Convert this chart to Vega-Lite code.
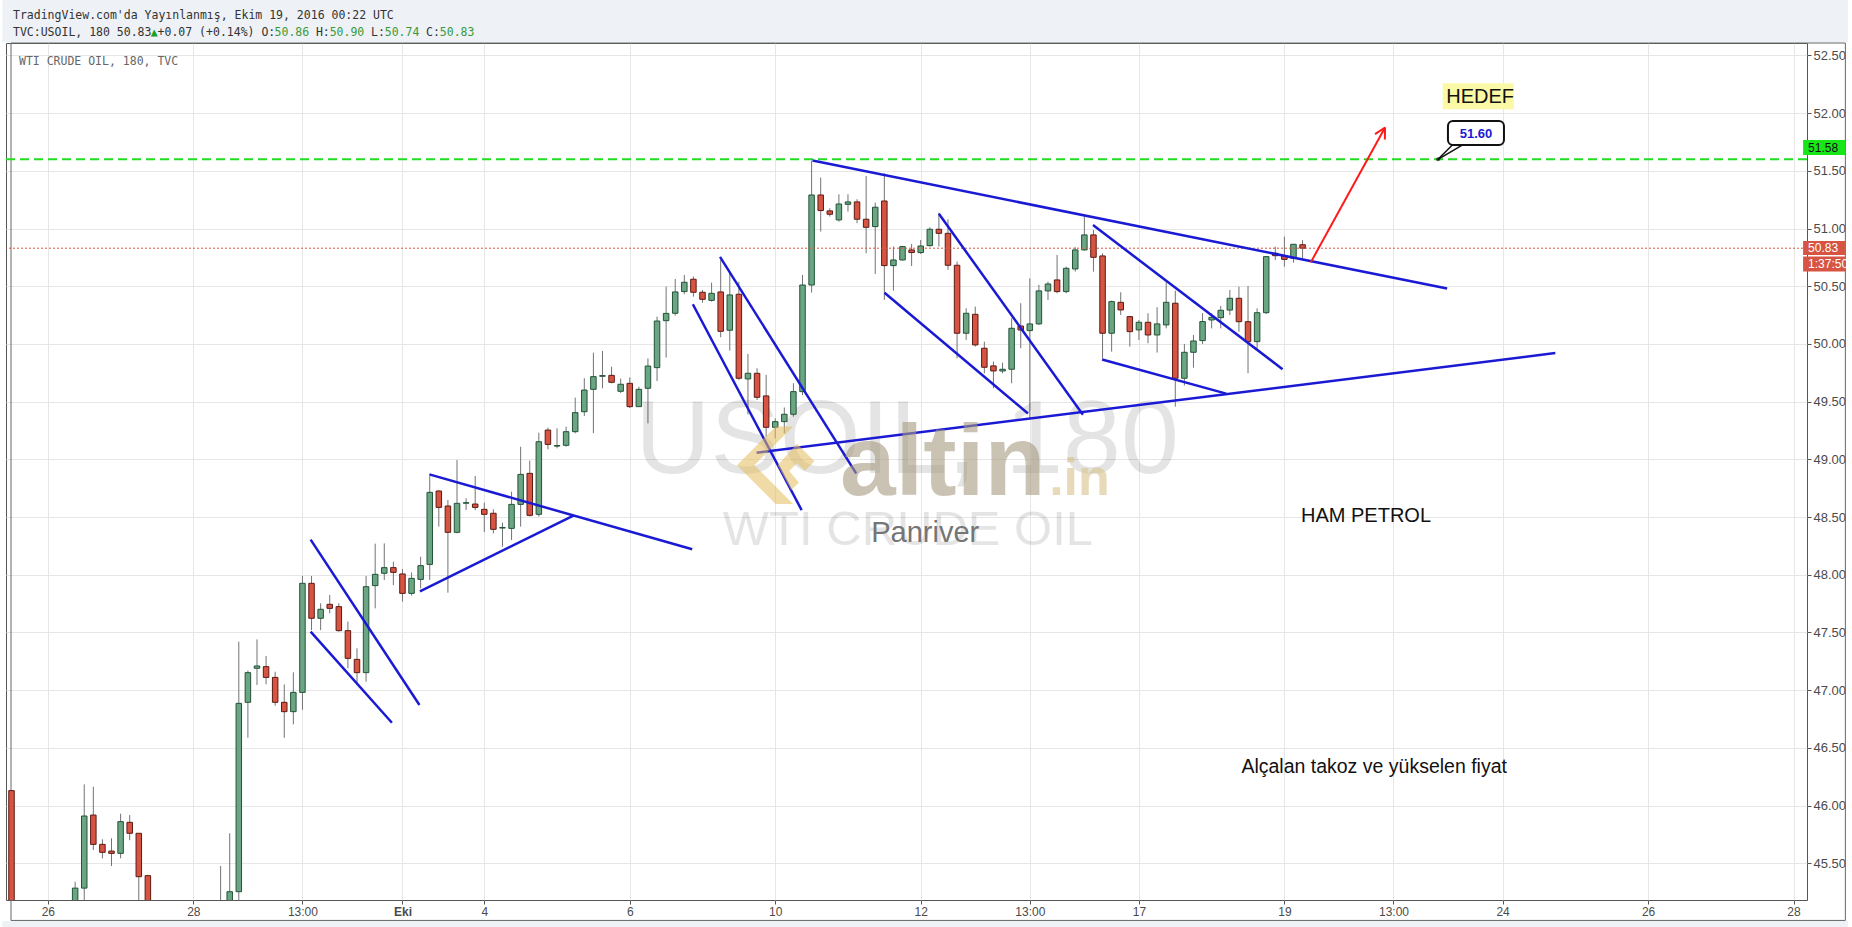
{
  "$schema": "https://vega.github.io/schema/vega-lite/v6.json",
  "width": 1801,
  "height": 857,
  "autosize": {"type": "none"},
  "padding": {"left": 6, "top": 43, "right": 45, "bottom": 27},
  "background": "white",
  "config": {
    "view": {"stroke": "#555555", "strokeWidth": 1},
    "font": "Liberation Sans",
    "axis": {
      "title": null,
      "labelFont": "Liberation Sans",
      "labelColor": "#4a4a4a",
      "labelPadding": 2,
      "tickSize": 4,
      "tickColor": "#555555",
      "domain": false,
      "grid": true,
      "gridColor": "#e6e6e6",
      "gridWidth": 1
    }
  },
  "datasets": {
    "one": [{"k": 1}],
    "candles": [
      {"i":0,"o":46.13,"h":46.13,"l":44.9,"c":44.95},
      {"i":7,"o":45.1,"h":45.34,"l":45.05,"c":45.285},
      {"i":8,"o":45.285,"h":46.184,"l":45.17,"c":45.91},
      {"i":9,"o":45.918,"h":46.164,"l":45.615,"c":45.664},
      {"i":10,"o":45.664,"h":45.708,"l":45.543,"c":45.595},
      {"i":11,"o":45.606,"h":45.717,"l":45.477,"c":45.586},
      {"i":12,"o":45.586,"h":45.93,"l":45.543,"c":45.861},
      {"i":13,"o":45.855,"h":45.918,"l":45.7,"c":45.76},
      {"i":14,"o":45.76,"h":45.76,"l":45.0,"c":45.384},
      {"i":15,"o":45.393,"h":45.4,"l":44.9,"c":45.0},
      {"i":23,"o":44.95,"h":45.476,"l":44.9,"c":45.12},
      {"i":24,"o":45.1,"h":45.76,"l":45.05,"c":45.254},
      {"i":25,"o":45.254,"h":47.42,"l":45.18,"c":46.886},
      {"i":26,"o":46.895,"h":47.17,"l":46.588,"c":47.152},
      {"i":27,"o":47.19,"h":47.44,"l":47.045,"c":47.21},
      {"i":28,"o":47.204,"h":47.296,"l":47.051,"c":47.111},
      {"i":29,"o":47.111,"h":47.16,"l":46.866,"c":46.895},
      {"i":30,"o":46.895,"h":47.05,"l":46.588,"c":46.814},
      {"i":31,"o":46.814,"h":47.155,"l":46.704,"c":46.981},
      {"i":32,"o":46.981,"h":47.99,"l":46.83,"c":47.926},
      {"i":33,"o":47.926,"h":47.99,"l":47.521,"c":47.623},
      {"i":34,"o":47.623,"h":47.753,"l":47.52,"c":47.701},
      {"i":35,"o":47.744,"h":47.825,"l":47.666,"c":47.709},
      {"i":36,"o":47.724,"h":47.753,"l":47.507,"c":47.516},
      {"i":37,"o":47.516,"h":47.594,"l":47.19,"c":47.276},
      {"i":38,"o":47.267,"h":47.363,"l":47.059,"c":47.152},
      {"i":39,"o":47.152,"h":47.99,"l":47.074,"c":47.897},
      {"i":40,"o":47.906,"h":48.27,"l":47.709,"c":48.004},
      {"i":41,"o":48.013,"h":48.272,"l":47.955,"c":48.062},
      {"i":42,"o":48.062,"h":48.114,"l":47.911,"c":48.021},
      {"i":43,"o":48.007,"h":48.05,"l":47.767,"c":47.839},
      {"i":44,"o":47.839,"h":48.02,"l":47.82,"c":47.969},
      {"i":45,"o":47.96,"h":48.157,"l":47.882,"c":48.079},
      {"i":46,"o":48.09,"h":48.859,"l":47.955,"c":48.714},
      {"i":47,"o":48.726,"h":48.734,"l":48.417,"c":48.584},
      {"i":48,"o":48.596,"h":48.648,"l":47.845,"c":48.368},
      {"i":49,"o":48.368,"h":48.994,"l":48.359,"c":48.619},
      {"i":50,"o":48.62,"h":48.663,"l":48.561,"c":48.625},
      {"i":51,"o":48.613,"h":48.856,"l":48.561,"c":48.584},
      {"i":52,"o":48.567,"h":48.625,"l":48.37,"c":48.524},
      {"i":53,"o":48.533,"h":48.567,"l":48.359,"c":48.394},
      {"i":54,"o":48.405,"h":48.452,"l":48.243,"c":48.41},
      {"i":55,"o":48.402,"h":48.72,"l":48.301,"c":48.61},
      {"i":56,"o":48.61,"h":49.11,"l":48.417,"c":48.87},
      {"i":57,"o":48.879,"h":48.99,"l":48.504,"c":48.515},
      {"i":58,"o":48.524,"h":49.231,"l":48.504,"c":49.153},
      {"i":59,"o":49.254,"h":49.275,"l":49.087,"c":49.13},
      {"i":60,"o":49.115,"h":49.269,"l":49.096,"c":49.12},
      {"i":61,"o":49.122,"h":49.283,"l":49.11,"c":49.24},
      {"i":62,"o":49.24,"h":49.535,"l":49.226,"c":49.405},
      {"i":63,"o":49.413,"h":49.703,"l":49.376,"c":49.601},
      {"i":64,"o":49.607,"h":49.925,"l":49.226,"c":49.717},
      {"i":65,"o":49.72,"h":49.94,"l":49.616,"c":49.726},
      {"i":66,"o":49.728,"h":49.803,"l":49.659,"c":49.668},
      {"i":67,"o":49.59,"h":49.7,"l":49.575,"c":49.651},
      {"i":68,"o":49.659,"h":49.71,"l":49.445,"c":49.457},
      {"i":69,"o":49.457,"h":49.63,"l":49.457,"c":49.607},
      {"i":70,"o":49.616,"h":49.875,"l":49.312,"c":49.809},
      {"i":71,"o":49.795,"h":50.237,"l":49.679,"c":50.199},
      {"i":72,"o":50.202,"h":50.497,"l":49.882,"c":50.265},
      {"i":73,"o":50.266,"h":50.563,"l":50.246,"c":50.451},
      {"i":74,"o":50.454,"h":50.598,"l":50.431,"c":50.535},
      {"i":75,"o":50.561,"h":50.584,"l":50.41,"c":50.448},
      {"i":76,"o":50.448,"h":50.468,"l":50.358,"c":50.387},
      {"i":77,"o":50.378,"h":50.532,"l":50.367,"c":50.439},
      {"i":78,"o":50.451,"h":50.728,"l":50.058,"c":50.11},
      {"i":79,"o":50.119,"h":50.627,"l":49.942,"c":50.425},
      {"i":80,"o":50.431,"h":50.54,"l":49.688,"c":49.703},
      {"i":81,"o":49.697,"h":49.914,"l":49.39,"c":49.746},
      {"i":82,"o":49.746,"h":49.79,"l":49.515,"c":49.538},
      {"i":83,"o":49.55,"h":49.732,"l":49.197,"c":49.278},
      {"i":84,"o":49.278,"h":49.356,"l":49.183,"c":49.327},
      {"i":85,"o":49.327,"h":49.45,"l":49.226,"c":49.391},
      {"i":86,"o":49.391,"h":49.66,"l":49.37,"c":49.587},
      {"i":87,"o":49.587,"h":50.598,"l":49.558,"c":50.511},
      {"i":88,"o":50.511,"h":51.589,"l":50.445,"c":51.291},
      {"i":89,"o":51.291,"h":51.442,"l":50.974,"c":51.156},
      {"i":90,"o":51.153,"h":51.176,"l":51.104,"c":51.124},
      {"i":91,"o":51.075,"h":51.297,"l":51.06,"c":51.213},
      {"i":92,"o":51.21,"h":51.297,"l":51.147,"c":51.231},
      {"i":93,"o":51.231,"h":51.254,"l":51.046,"c":51.081},
      {"i":94,"o":51.081,"h":51.456,"l":50.786,"c":51.011},
      {"i":95,"o":51.017,"h":51.225,"l":50.607,"c":51.185},
      {"i":96,"o":51.239,"h":51.479,"l":50.382,"c":50.679},
      {"i":97,"o":50.679,"h":50.844,"l":50.462,"c":50.728},
      {"i":98,"o":50.728,"h":50.85,"l":50.722,"c":50.844},
      {"i":99,"o":50.815,"h":50.867,"l":50.676,"c":50.792},
      {"i":100,"o":50.792,"h":50.901,"l":50.78,"c":50.849},
      {"i":101,"o":50.852,"h":51.011,"l":50.844,"c":50.994},
      {"i":102,"o":50.994,"h":51.138,"l":50.844,"c":50.959},
      {"i":103,"o":50.959,"h":51.08,"l":50.642,"c":50.682},
      {"i":104,"o":50.682,"h":50.714,"l":49.876,"c":50.093},
      {"i":105,"o":50.093,"h":50.309,"l":50.035,"c":50.266},
      {"i":106,"o":50.257,"h":50.324,"l":49.977,"c":49.992},
      {"i":107,"o":49.963,"h":50.02,"l":49.746,"c":49.798},
      {"i":108,"o":49.81,"h":49.847,"l":49.616,"c":49.766},
      {"i":109,"o":49.766,"h":49.839,"l":49.746,"c":49.781},
      {"i":110,"o":49.781,"h":50.223,"l":49.66,"c":50.136},
      {"i":111,"o":50.156,"h":50.353,"l":49.963,"c":50.121},
      {"i":112,"o":50.116,"h":50.569,"l":49.356,"c":50.174},
      {"i":113,"o":50.174,"h":50.512,"l":50.165,"c":50.46},
      {"i":114,"o":50.46,"h":50.54,"l":50.381,"c":50.52},
      {"i":115,"o":50.555,"h":50.771,"l":50.439,"c":50.454},
      {"i":116,"o":50.454,"h":50.67,"l":50.439,"c":50.656},
      {"i":117,"o":50.65,"h":50.838,"l":50.627,"c":50.815},
      {"i":118,"o":50.815,"h":51.118,"l":50.809,"c":50.945},
      {"i":119,"o":50.945,"h":50.988,"l":50.627,"c":50.751},
      {"i":120,"o":50.763,"h":50.786,"l":49.876,"c":50.093},
      {"i":121,"o":50.093,"h":50.376,"l":49.934,"c":50.367},
      {"i":122,"o":50.361,"h":50.448,"l":50.251,"c":50.295},
      {"i":123,"o":50.237,"h":50.243,"l":49.977,"c":50.107},
      {"i":124,"o":50.122,"h":50.208,"l":50.035,"c":50.188},
      {"i":125,"o":50.188,"h":50.266,"l":50.006,"c":50.078},
      {"i":126,"o":50.078,"h":50.318,"l":49.925,"c":50.174},
      {"i":127,"o":50.165,"h":50.54,"l":50.136,"c":50.361},
      {"i":128,"o":50.353,"h":50.462,"l":49.457,"c":49.703},
      {"i":129,"o":49.703,"h":50.0,"l":49.64,"c":49.928},
      {"i":130,"o":49.928,"h":50.078,"l":49.795,"c":50.026},
      {"i":131,"o":50.029,"h":50.266,"l":50.0,"c":50.194},
      {"i":132,"o":50.208,"h":50.266,"l":50.135,"c":50.231},
      {"i":133,"o":50.228,"h":50.33,"l":50.135,"c":50.292},
      {"i":134,"o":50.294,"h":50.468,"l":50.251,"c":50.396},
      {"i":135,"o":50.396,"h":50.497,"l":50.107,"c":50.193},
      {"i":136,"o":50.193,"h":50.503,"l":49.746,"c":50.02},
      {"i":137,"o":50.02,"h":50.309,"l":49.948,"c":50.271},
      {"i":138,"o":50.271,"h":50.762,"l":50.26,"c":50.757},
      {"i":139,"o":50.786,"h":50.843,"l":50.728,"c":50.765},
      {"i":140,"o":50.765,"h":50.93,"l":50.67,"c":50.733},
      {"i":141,"o":50.742,"h":50.864,"l":50.705,"c":50.864},
      {"i":142,"o":50.86,"h":50.9,"l":50.74,"c":50.83}
    ],
    "trend": [
      {"id":"L1","i":32.9,"p":48.305},{"id":"L1","i":44.87,"p":46.872},
      {"id":"L2","i":32.9,"p":47.507},{"id":"L2","i":41.84,"p":46.718},
      {"id":"L3","i":44.92,"p":47.857},{"id":"L3","i":61.8,"p":48.513},
      {"id":"L4","i":45.96,"p":48.87},{"id":"L4","i":74.87,"p":48.221},
      {"id":"L5","i":74.94,"p":50.344},{"id":"L5","i":86.9,"p":48.561},
      {"id":"L6","i":77.93,"p":50.755},{"id":"L6","i":92.9,"p":48.879},
      {"id":"L7","i":81.95,"p":49.058},{"id":"L7","i":169.8,"p":49.921},
      {"id":"L8","i":88.1,"p":51.589},{"id":"L8","i":157.9,"p":50.48},
      {"id":"L9","i":96.02,"p":50.444},{"id":"L9","i":111.8,"p":49.397},
      {"id":"L10","i":102.0,"p":51.128},{"id":"L10","i":117.84,"p":49.387},
      {"id":"L11","i":118.95,"p":51.03},{"id":"L11","i":139.8,"p":49.782},
      {"id":"L12","i":119.95,"p":49.866},{"id":"L12","i":133.6,"p":49.57}
    ],
    "arrow": [
      {"id":"A","i":142.9,"p":50.707},{"id":"A","i":151.07,"p":51.876},
      {"id":"H1","i":151.07,"p":51.876},{"id":"H1","i":149.97,"p":51.819},
      {"id":"H2","i":151.07,"p":51.876},{"id":"H2","i":151.05,"p":51.772}
    ],
    "pointer": [
      {"id":"P1","i":158.5,"p":51.726},{"id":"P1","i":156.9,"p":51.6},
      {"id":"P2","i":159.6,"p":51.726},{"id":"P2","i":156.9,"p":51.6}
    ]
  },
  "layer": [
    {
      "data": {"name": "candles"},
      "mark": {"type": "rule", "color": "#737375", "strokeWidth": 1, "clip": true},
      "encoding": {
        "x": {
          "field": "i",
          "type": "quantitative",
          "title": null,
          "scale": {"domain": [-0.055, 196.93], "nice": false, "zero": false},
          "axis": {
            "orient": "bottom",
            "values": [4, 20, 32, 43, 52, 68, 84, 100, 112, 124, 140, 152, 164, 180, 196],
            "labelExpr": "datum.value==4?'26':datum.value==20?'28':datum.value==32?'13:00':datum.value==43?'Eki':datum.value==52?'4':datum.value==68?'6':datum.value==84?'10':datum.value==100?'12':datum.value==112?'13:00':datum.value==124?'17':datum.value==140?'19':datum.value==152?'13:00':datum.value==164?'24':datum.value==180?'26':'28'",
            "labelFontSize": 12,
            "labelFontWeight": {"condition": {"test": "datum.value == 43", "value": "bold"}, "value": "normal"}
          }
        },
        "y": {
          "field": "l",
          "type": "quantitative",
          "title": null,
          "scale": {"domain": [45.182, 52.608], "nice": false, "zero": false},
          "axis": {
            "orient": "right",
            "values": [45.5, 46, 46.5, 47, 47.5, 48, 48.5, 49, 49.5, 50, 50.5, 51, 51.5, 52, 52.5],
            "format": ".2f",
            "labelFontSize": 13
          }
        },
        "y2": {"field": "h"}
      }
    },
    {
      "data": {"name": "one"},
      "mark": {"type": "rect", "color": "#eef1f5"},
      "encoding": {
        "x": {"datum": -1, "type": "quantitative", "title": null},
        "x2": {"datum": 202},
        "y": {"datum": 52.615, "type": "quantitative", "title": null},
        "y2": {"datum": 53.2}
      }
    },
    {
      "data": {"name": "one"},
      "mark": {"type": "rect", "color": "#eef1f5"},
      "encoding": {
        "x": {"datum": -1, "type": "quantitative", "title": null},
        "x2": {"datum": 202},
        "y": {"datum": 45.0, "type": "quantitative", "title": null},
        "y2": {"datum": 44.6}
      }
    },
    {
      "data": {"name": "one"},
      "mark": {"type": "rect", "fillOpacity": 0, "stroke": "#666666", "strokeWidth": 1},
      "encoding": {
        "x": {"datum": -0.055, "type": "quantitative", "title": null},
        "x2": {"datum": 201.7},
        "y": {"datum": 52.608, "type": "quantitative", "title": null},
        "y2": {"datum": 45.005}
      }
    },
    {
      "data": {"name": "one"},
      "mark": {"type": "text", "text": "TradingView.com'da Yayınlanmış, Ekim 19, 2016 00:22 UTC", "font": "DejaVu Sans Mono", "fontSize": 11.5, "color": "#333333", "align": "left", "baseline": "alphabetic"},
      "encoding": {
        "x": {"datum": 0.164, "type": "quantitative", "title": null},
        "y": {"datum": 52.816, "type": "quantitative", "title": null}
      }
    },
    {
      "data": {"name": "one"},
      "mark": {"type": "text", "text": "TVC:USOIL, 180 50.83", "font": "DejaVu Sans Mono", "fontSize": 11.5, "color": "#333333", "align": "left", "baseline": "alphabetic"},
      "encoding": {
        "x": {"datum": 0.164, "type": "quantitative", "title": null},
        "y": {"datum": 52.669, "type": "quantitative", "title": null}
      }
    },
    {
      "data": {"name": "one"},
      "mark": {"type": "text", "text": "▲", "font": "DejaVu Sans Mono", "fontSize": 11.5, "color": "#1ea01e", "align": "left", "baseline": "alphabetic"},
      "encoding": {
        "x": {"datum": 15.308, "type": "quantitative", "title": null},
        "y": {"datum": 52.669, "type": "quantitative", "title": null}
      }
    },
    {
      "data": {"name": "one"},
      "mark": {"type": "text", "text": "+0.07 (+0.14%) O:", "font": "DejaVu Sans Mono", "fontSize": 11.5, "color": "#333333", "align": "left", "baseline": "alphabetic"},
      "encoding": {
        "x": {"datum": 16.065, "type": "quantitative", "title": null},
        "y": {"datum": 52.669, "type": "quantitative", "title": null}
      }
    },
    {
      "data": {"name": "one"},
      "mark": {"type": "text", "text": "50.86", "font": "DejaVu Sans Mono", "fontSize": 11.5, "color": "#3a9a3a", "align": "left", "baseline": "alphabetic"},
      "encoding": {
        "x": {"datum": 28.937, "type": "quantitative", "title": null},
        "y": {"datum": 52.669, "type": "quantitative", "title": null}
      }
    },
    {
      "data": {"name": "one"},
      "mark": {"type": "text", "text": "H:", "font": "DejaVu Sans Mono", "fontSize": 11.5, "color": "#333333", "align": "left", "baseline": "alphabetic"},
      "encoding": {
        "x": {"datum": 33.481, "type": "quantitative", "title": null},
        "y": {"datum": 52.669, "type": "quantitative", "title": null}
      }
    },
    {
      "data": {"name": "one"},
      "mark": {"type": "text", "text": "50.90", "font": "DejaVu Sans Mono", "fontSize": 11.5, "color": "#3a9a3a", "align": "left", "baseline": "alphabetic"},
      "encoding": {
        "x": {"datum": 34.995, "type": "quantitative", "title": null},
        "y": {"datum": 52.669, "type": "quantitative", "title": null}
      }
    },
    {
      "data": {"name": "one"},
      "mark": {"type": "text", "text": "L:", "font": "DejaVu Sans Mono", "fontSize": 11.5, "color": "#333333", "align": "left", "baseline": "alphabetic"},
      "encoding": {
        "x": {"datum": 39.538, "type": "quantitative", "title": null},
        "y": {"datum": 52.669, "type": "quantitative", "title": null}
      }
    },
    {
      "data": {"name": "one"},
      "mark": {"type": "text", "text": "50.74", "font": "DejaVu Sans Mono", "fontSize": 11.5, "color": "#3a9a3a", "align": "left", "baseline": "alphabetic"},
      "encoding": {
        "x": {"datum": 41.053, "type": "quantitative", "title": null},
        "y": {"datum": 52.669, "type": "quantitative", "title": null}
      }
    },
    {
      "data": {"name": "one"},
      "mark": {"type": "text", "text": "C:", "font": "DejaVu Sans Mono", "fontSize": 11.5, "color": "#333333", "align": "left", "baseline": "alphabetic"},
      "encoding": {
        "x": {"datum": 45.596, "type": "quantitative", "title": null},
        "y": {"datum": 52.669, "type": "quantitative", "title": null}
      }
    },
    {
      "data": {"name": "one"},
      "mark": {"type": "text", "text": "50.83", "font": "DejaVu Sans Mono", "fontSize": 11.5, "color": "#3a9a3a", "align": "left", "baseline": "alphabetic"},
      "encoding": {
        "x": {"datum": 47.11, "type": "quantitative", "title": null},
        "y": {"datum": 52.669, "type": "quantitative", "title": null}
      }
    },
    {
      "data": {"name": "one"},
      "mark": {"type": "text", "text": "USOIL, 180", "font": "Liberation Sans", "fontSize": 104, "color": "#000000", "opacity": 0.1, "align": "center", "baseline": "alphabetic"},
      "encoding": {
        "x": {"datum": 98.5, "type": "quantitative", "title": null},
        "y": {"datum": 48.88, "type": "quantitative", "title": null}
      }
    },
    {
      "data": {"name": "one"},
      "mark": {"type": "text", "text": "WTI CRUDE OIL", "font": "Liberation Sans", "fontSize": 49, "color": "#000000", "opacity": 0.1, "align": "center", "baseline": "alphabetic"},
      "encoding": {
        "x": {"datum": 98.6, "type": "quantitative", "title": null},
        "y": {"datum": 48.258, "type": "quantitative", "title": null}
      }
    },
    {
      "data": {"name": "one"},
      "mark": {"type": "text", "text": "WTI CRUDE OIL, 180, TVC", "font": "DejaVu Sans Mono", "fontSize": 11.5, "color": "#666666", "align": "left", "baseline": "alphabetic"},
      "encoding": {
        "x": {"datum": 0.82, "type": "quantitative", "title": null},
        "y": {"datum": 52.418, "type": "quantitative", "title": null}
      }
    },
    {
      "data": {"name": "candles"},
      "mark": {"type": "bar", "size": 5.5, "strokeWidth": 1, "clip": true},
      "encoding": {
        "x": {"field": "i", "type": "quantitative", "title": null},
        "y": {"field": "o", "type": "quantitative", "title": null},
        "y2": {"field": "c"},
        "fill": {"condition": {"test": "datum.c < datum.o", "value": "#d75442"}, "value": "#6ba583"},
        "stroke": {"condition": {"test": "datum.c < datum.o", "value": "#5b1a13"}, "value": "#225437"}
      }
    },
    {
      "data": {"name": "one"},
      "mark": {"type": "rule", "color": "#d75442", "strokeWidth": 1, "strokeDash": [2, 2]},
      "encoding": {
        "y": {"datum": 50.83, "type": "quantitative", "title": null}
      }
    },
    {
      "data": {"name": "one"},
      "mark": {"type": "rule", "color": "#22dd22", "strokeWidth": 2, "strokeDash": [9, 5]},
      "encoding": {
        "y": {"datum": 51.6, "type": "quantitative", "title": null}
      }
    },
    {
      "data": {"name": "trend"},
      "mark": {"type": "line", "color": "#1a1ad4", "strokeWidth": 2.5},
      "encoding": {
        "x": {"field": "i", "type": "quantitative", "title": null},
        "y": {"field": "p", "type": "quantitative", "title": null},
        "detail": {"field": "id"}
      }
    },
    {
      "data": {"name": "one"},
      "mark": {"type": "point", "shape": "M -1 0 L 0 -1 L 0.45 -1 L -0.55 0 L 0.45 1 L 0 1 Z M 0.05 0 L 0.55 -0.55 L 1 -0.1 L 0.75 0.15 L 0.55 -0.05 L 0.35 0.15 L 0.6 0.45 L 0.4 0.65 Z", "size": 6000, "filled": true, "color": "#e3bd5c", "opacity": 0.55, "strokeWidth": 0},
      "encoding": {
        "x": {"datum": 84.05, "type": "quantitative", "title": null},
        "y": {"datum": 48.95, "type": "quantitative", "title": null}
      }
    },
    {
      "data": {"name": "one"},
      "mark": {"type": "text", "text": "altin", "font": "Liberation Sans", "fontSize": 100, "fontWeight": "bold", "color": "#a89a80", "opacity": 0.6, "align": "left", "baseline": "alphabetic"},
      "encoding": {
        "x": {"datum": 91.12, "type": "quantitative", "title": null},
        "y": {"datum": 48.692, "type": "quantitative", "title": null}
      }
    },
    {
      "data": {"name": "one"},
      "mark": {"type": "text", "text": ".in", "font": "Liberation Sans", "fontSize": 52, "fontWeight": "bold", "color": "#d9c38a", "opacity": 0.6, "align": "left", "baseline": "alphabetic"},
      "encoding": {
        "x": {"datum": 114.13, "type": "quantitative", "title": null},
        "y": {"datum": 48.692, "type": "quantitative", "title": null}
      }
    },
    {
      "data": {"name": "one"},
      "mark": {"type": "text", "text": "Panriver", "font": "Liberation Sans", "fontSize": 29, "color": "#757575", "align": "center", "baseline": "alphabetic"},
      "encoding": {
        "x": {"datum": 100.5, "type": "quantitative", "title": null},
        "y": {"datum": 48.287, "type": "quantitative", "title": null}
      }
    },
    {
      "data": {"name": "arrow"},
      "mark": {"type": "line", "color": "#ff1a1a", "strokeWidth": 2},
      "encoding": {
        "x": {"field": "i", "type": "quantitative", "title": null},
        "y": {"field": "p", "type": "quantitative", "title": null},
        "detail": {"field": "id"}
      }
    },
    {
      "data": {"name": "one"},
      "mark": {"type": "rect", "color": "#fbf8a6"},
      "encoding": {
        "x": {"datum": 157.41, "type": "quantitative", "title": null},
        "x2": {"datum": 165.24},
        "y": {"datum": 52.259, "type": "quantitative", "title": null},
        "y2": {"datum": 52.034}
      }
    },
    {
      "data": {"name": "one"},
      "mark": {"type": "text", "text": "HEDEF", "font": "Liberation Sans", "fontSize": 20, "color": "#111111", "align": "left", "baseline": "alphabetic"},
      "encoding": {
        "x": {"datum": 157.8, "type": "quantitative", "title": null},
        "y": {"datum": 52.091, "type": "quantitative", "title": null}
      }
    },
    {
      "data": {"name": "pointer"},
      "mark": {"type": "line", "color": "#111111", "strokeWidth": 1.5},
      "encoding": {
        "x": {"field": "i", "type": "quantitative", "title": null},
        "y": {"field": "p", "type": "quantitative", "title": null},
        "detail": {"field": "id"}
      }
    },
    {
      "data": {"name": "one"},
      "mark": {"type": "point", "shape": "circle", "size": 16, "filled": true, "color": "#111111"},
      "encoding": {
        "x": {"datum": 156.9, "type": "quantitative", "title": null},
        "y": {"datum": 51.6, "type": "quantitative", "title": null}
      }
    },
    {
      "data": {"name": "one"},
      "mark": {"type": "rect", "fill": "#ffffff", "stroke": "#111111", "strokeWidth": 2, "cornerRadius": 5},
      "encoding": {
        "x": {"datum": 157.99, "type": "quantitative", "title": null},
        "x2": {"datum": 164.15},
        "y": {"datum": 51.932, "type": "quantitative", "title": null},
        "y2": {"datum": 51.724}
      }
    },
    {
      "data": {"name": "one"},
      "mark": {"type": "text", "text": "51.60", "font": "Liberation Sans", "fontSize": 13, "fontWeight": "bold", "color": "#1a1ad4", "align": "center", "baseline": "alphabetic"},
      "encoding": {
        "x": {"datum": 161.07, "type": "quantitative", "title": null},
        "y": {"datum": 51.788, "type": "quantitative", "title": null}
      }
    },
    {
      "data": {"name": "one"},
      "mark": {"type": "text", "text": "HAM PETROL", "font": "Liberation Sans", "fontSize": 20, "color": "#111111", "align": "left", "baseline": "alphabetic"},
      "encoding": {
        "x": {"datum": 141.83, "type": "quantitative", "title": null},
        "y": {"datum": 48.46, "type": "quantitative", "title": null}
      }
    },
    {
      "data": {"name": "one"},
      "mark": {"type": "text", "text": "Alçalan takoz ve yükselen fiyat", "font": "Liberation Sans", "fontSize": 19.5, "color": "#111111", "align": "left", "baseline": "alphabetic"},
      "encoding": {
        "x": {"datum": 135.27, "type": "quantitative", "title": null},
        "y": {"datum": 46.28, "type": "quantitative", "title": null}
      }
    },
    {
      "data": {"name": "one"},
      "mark": {"type": "rect", "color": "#19e619"},
      "encoding": {
        "x": {"datum": 197.05, "type": "quantitative", "title": null},
        "x2": {"datum": 201.7},
        "y": {"datum": 51.768, "type": "quantitative", "title": null},
        "y2": {"datum": 51.638}
      }
    },
    {
      "data": {"name": "one"},
      "mark": {"type": "text", "text": "51.58", "font": "Liberation Sans", "fontSize": 12, "color": "#111111", "align": "left", "baseline": "middle"},
      "encoding": {
        "x": {"datum": 197.6, "type": "quantitative", "title": null},
        "y": {"datum": 51.702, "type": "quantitative", "title": null}
      }
    },
    {
      "data": {"name": "one"},
      "mark": {"type": "rect", "color": "#d75442"},
      "encoding": {
        "x": {"datum": 197.05, "type": "quantitative", "title": null},
        "x2": {"datum": 201.7},
        "y": {"datum": 50.892, "type": "quantitative", "title": null},
        "y2": {"datum": 50.771}
      }
    },
    {
      "data": {"name": "one"},
      "mark": {"type": "rect", "color": "#d75442"},
      "encoding": {
        "x": {"datum": 197.05, "type": "quantitative", "title": null},
        "x2": {"datum": 201.7},
        "y": {"datum": 50.758, "type": "quantitative", "title": null},
        "y2": {"datum": 50.628}
      }
    },
    {
      "data": {"name": "one"},
      "mark": {"type": "text", "text": "50.83", "font": "Liberation Sans", "fontSize": 12, "color": "#ffffff", "align": "left", "baseline": "middle"},
      "encoding": {
        "x": {"datum": 197.6, "type": "quantitative", "title": null},
        "y": {"datum": 50.831, "type": "quantitative", "title": null}
      }
    },
    {
      "data": {"name": "one"},
      "mark": {"type": "text", "text": "1:37:50", "font": "Liberation Sans", "fontSize": 12, "color": "#ffffff", "align": "left", "baseline": "middle"},
      "encoding": {
        "x": {"datum": 197.6, "type": "quantitative", "title": null},
        "y": {"datum": 50.693, "type": "quantitative", "title": null}
      }
    }
  ]
}
